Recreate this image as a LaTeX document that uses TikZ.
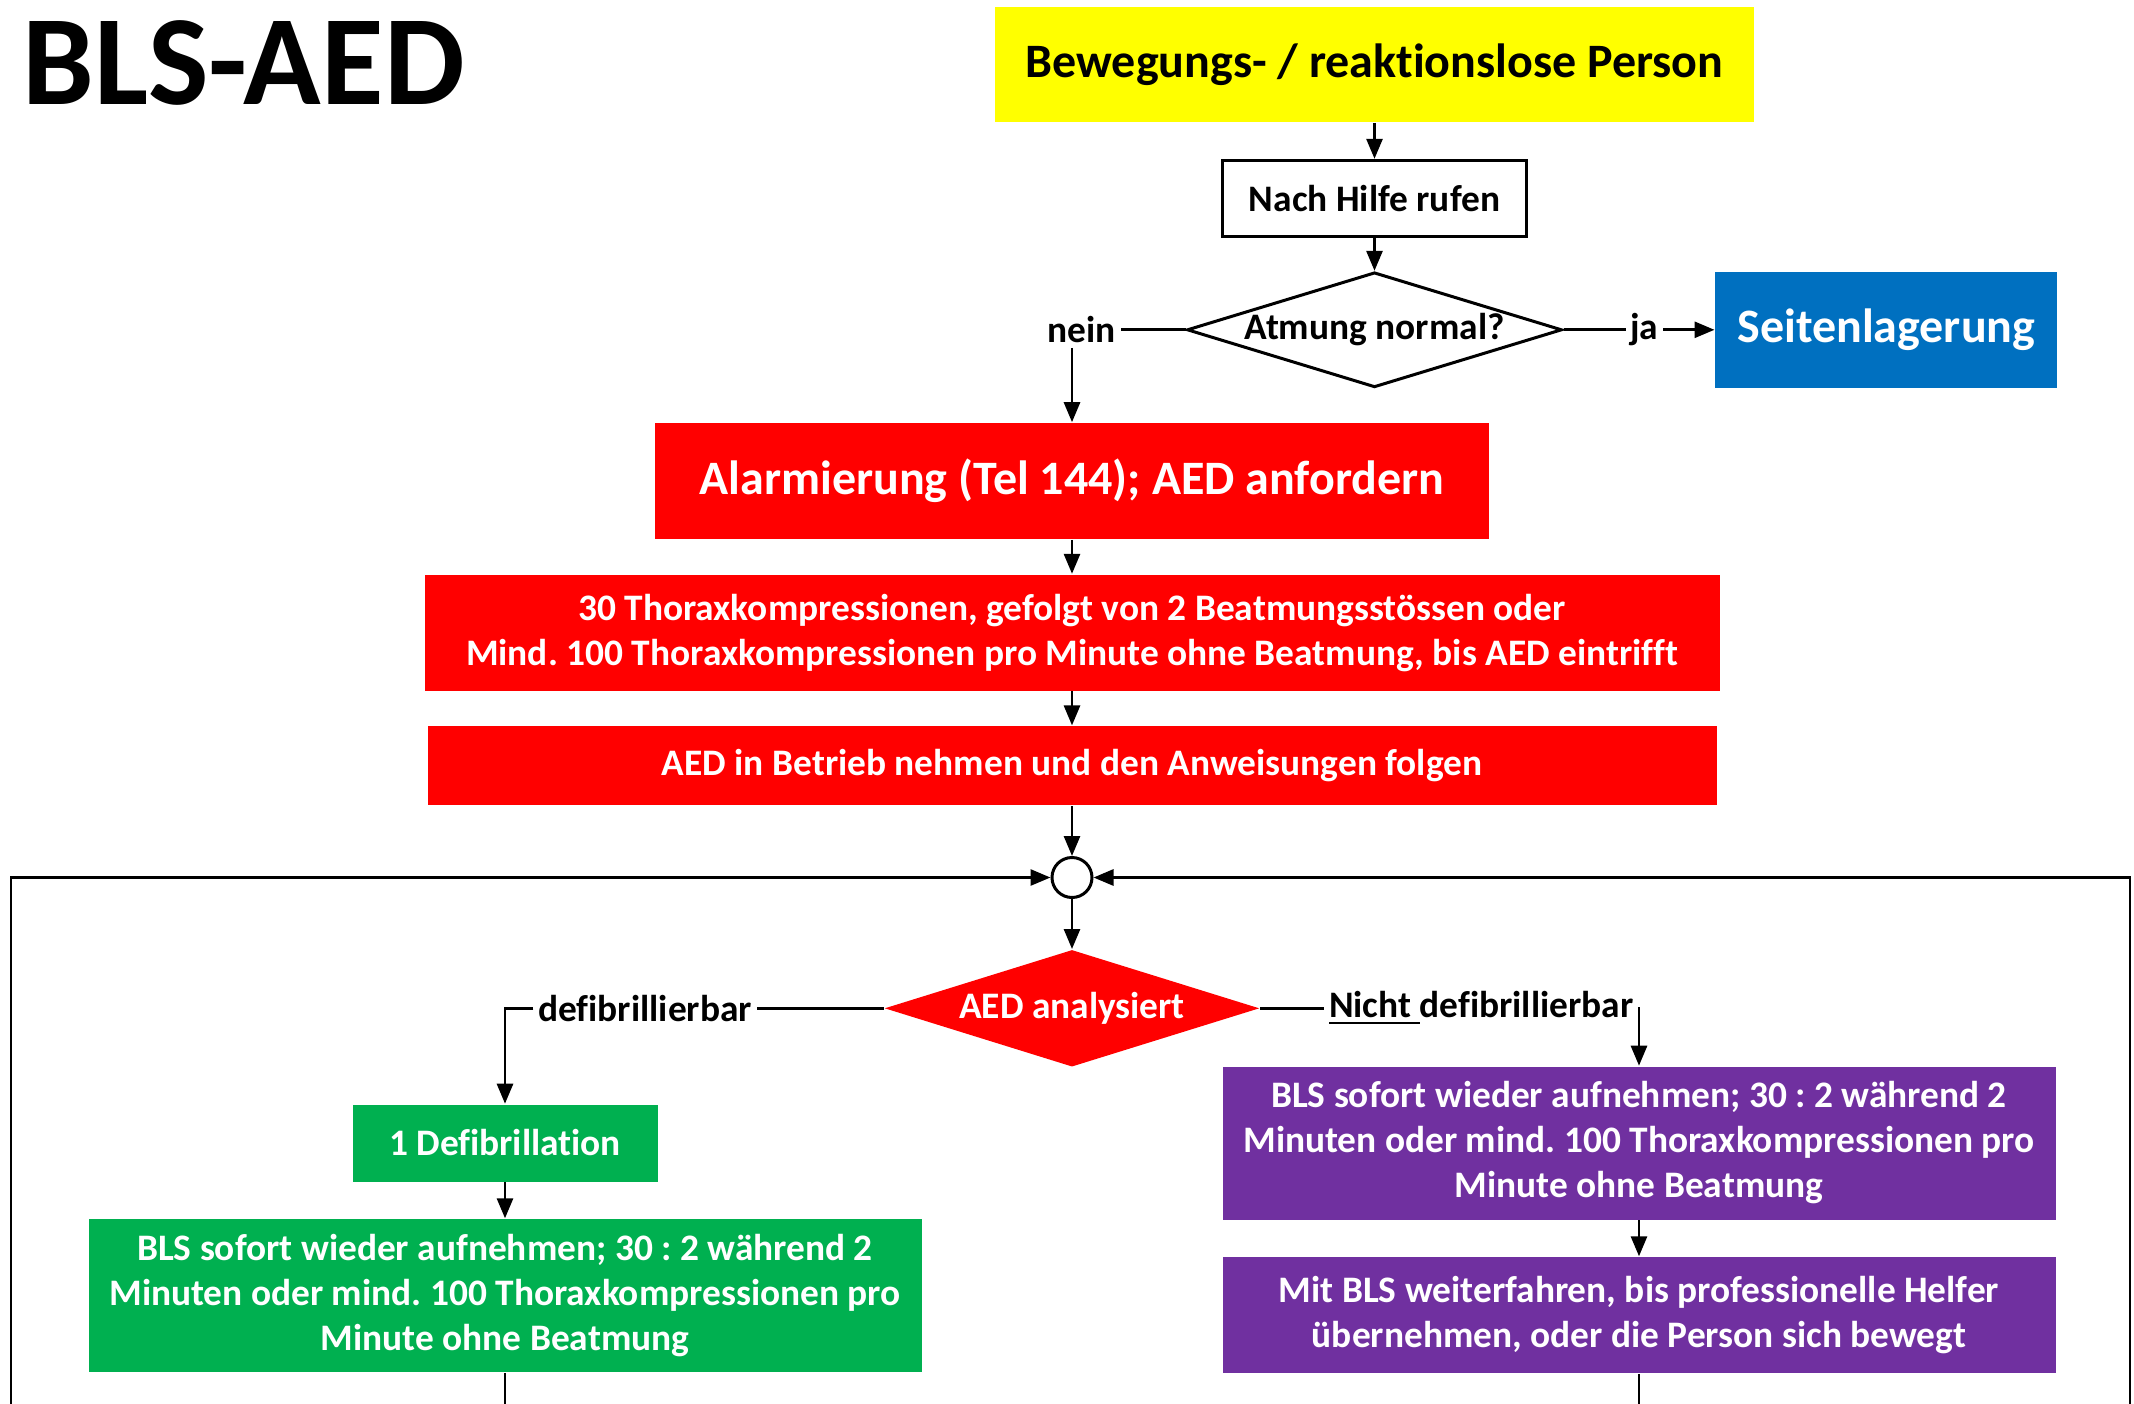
\documentclass[tikz,border=0pt]{standalone}
\usepackage{fontspec}
\setmainfont{Carlito}[Ligatures=NoCommon]
\usepackage{tikz}
\usetikzlibrary{arrows.meta, positioning, shapes.geometric}
\usepackage{xcolor}

\definecolor{alarmred}{HTML}{FF0000}
\definecolor{personyellow}{HTML}{FFFF00}
\definecolor{recoveryblue}{HTML}{0070C0}
\definecolor{shockgreen}{HTML}{00B050}
\definecolor{cprpurple}{HTML}{7030A0}

\begin{document}
\frenchspacing
\begin{tikzpicture}[
x=0.25pt, y=-0.25pt,
node distance=9pt,
big/.style={font=\fontsize{12}{14}\selectfont\bfseries},
small/.style={font=\fontsize{9.35}{11.25}\selectfont\bfseries},
box/.style={rectangle, inner sep=0pt, align=center, small},
decision/.style={diamond, inner sep=0pt, aspect=3.2, small},
tag/.style={inner sep=1pt, small},
arrow/.style={-{Triangle[length=5pt, width=4pt]}, line width=0.7pt} ]

\useasboundingbox (0,0) rectangle (2134,1404);

\node[anchor=base west, inner sep=0pt, font=\fontsize{32}{36}\selectfont\bfseries] (title) at (22,104) {BLS-AED};

\node[box, big, fill=personyellow, minimum width=189.75pt, minimum height=28.75pt] (person) at (1374.5,64.5) {Bewegungs- / reaktionslose Person};
\node[box, draw, line width=0.75pt, minimum width=76pt, minimum height=19pt, below=of person] (help) {Nach Hilfe rufen};
\node[decision, draw, line width=0.75pt, minimum width=93.75pt, minimum height=28.75pt, below=8.25pt of help] (breathing) {\makebox[0pt]{Atmung normal?}};
\node[box, big, fill=recoveryblue, text=white, minimum width=85.5pt, minimum height=29pt, right=37.75pt of breathing] (recovery) {Seitenlagerung};
\node[tag, left=16.25pt of breathing] (nein) {nein};
\node[tag, right=15.5pt of breathing] (ja) {ja};

\node[box, big, fill=alarmred, text=white, minimum width=208.5pt, minimum height=29pt] (alarm) at (1072,481) {Alarmierung (Tel 144); AED anfordern};
\node[box, fill=alarmred, text=white, minimum width=323.75pt, minimum height=29pt, below=8.5pt of alarm] (cpr) {30 Thoraxkompressionen, gefolgt von 2 Beatmungsstössen oder\\Mind. 100 Thoraxkompressionen pro Minute ohne Beatmung, bis AED eintrifft};
\node[box, fill=alarmred, text=white, minimum width=322.25pt, minimum height=19.75pt, below=8.5pt of cpr] (aed) {AED in Betrieb nehmen und den Anweisungen folgen};
\node[circle, draw, line width=0.75pt, minimum size=10pt, inner sep=0pt, below=12.5pt of aed] (merge) {};
\node[decision, fill=alarmred, text=white, minimum width=93.75pt, minimum height=29.25pt, below=12.5pt of merge] (analysis) {\makebox[0pt]{AED analysiert}};
\node[tag, left=31.75pt of analysis] (defi) {defibrillierbar};
\node[tag, right=16pt of analysis] (nodefi) {\underline{Nicht\ }defibrillierbar};

\node[box, fill=shockgreen, text=white, minimum width=76.25pt, minimum height=19.25pt] (shock) at (505,1143) {1 Defibrillation};
\node[box, fill=shockgreen, text=white, minimum width=208.25pt, minimum height=38.25pt, below=of shock] (blsA) {BLS sofort wieder aufnehmen; 30 : 2 während 2\\Minuten oder mind. 100 Thoraxkompressionen pro\\Minute ohne Beatmung};
\node[box, fill=cprpurple, text=white, minimum width=208.25pt, minimum height=38.25pt] (blsB) at (1639,1143) {BLS sofort wieder aufnehmen; 30 : 2 während 2\\Minuten oder mind. 100 Thoraxkompressionen pro\\Minute ohne Beatmung};
\node[box, fill=cprpurple, text=white, minimum width=208.25pt, minimum height=29pt, below=of blsB] (blsC) {Mit BLS weiterfahren, bis professionelle Helfer\\übernehmen, oder die Person sich bewegt};

\coordinate (loopL) at (11,1404);
\coordinate (loopR) at (2130,1404);
\coordinate (endA) at (505,1404);
\coordinate (endC) at (1639,1404);

\draw[arrow] (person) -- (help);
\draw[arrow] (help) -- (breathing);
\draw[line width=0.7pt] (breathing.west) -- (nein.east);
\draw[arrow] (nein.south -| alarm.north) -- (alarm.north);
\draw[line width=0.7pt] (breathing.east) -- (ja.west);
\draw[arrow] (ja.east) -- (recovery.west);
\draw[arrow] (alarm) -- (cpr);
\draw[arrow] (cpr) -- (aed);
\draw[arrow] (aed) -- (merge);
\draw[arrow] (merge) -- (analysis);
\draw[line width=0.7pt] (analysis.west) -- (defi.east);
\draw[arrow] (defi.west) -| (shock.north);
\draw[line width=0.7pt] (analysis.east) -- (nodefi.west);
\draw[arrow] (nodefi.east) -| (blsB.north);
\draw[arrow] (shock) -- (blsA);
\draw[arrow] (blsB) -- (blsC);
\draw[line width=0.7pt] (blsA) -- (endA);
\draw[line width=0.7pt] (blsC) -- (endC);

\draw[arrow] (loopL) |- (merge.west);
\draw[arrow] (loopR) |- (merge.east);

\end{tikzpicture}
\end{document}
